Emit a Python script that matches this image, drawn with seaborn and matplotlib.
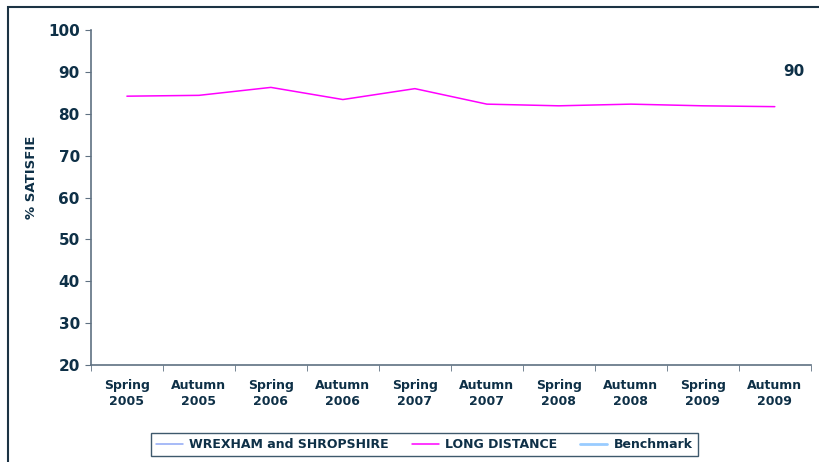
import matplotlib
matplotlib.use("Agg")
import matplotlib.pyplot as plt
from matplotlib.lines import Line2D
from matplotlib.patches import Rectangle
import pandas as pd
import seaborn as sns

periods = ["Spring\n2005", "Autumn\n2005", "Spring\n2006", "Autumn\n2006", "Spring\n2007",
           "Autumn\n2007", "Spring\n2008", "Autumn\n2008", "Spring\n2009", "Autumn\n2009"]
long_distance = [84.2, 84.4, 86.3, 83.4, 86.0, 82.3, 81.9, 82.3, 81.9, 81.7]
series_names = ["WREXHAM and SHROPSHIRE", "LONG DISTANCE", "Benchmark"]
series_colors = ["#8fa8f5", "#ff00ff", "#99ccff"]
benchmark_label = "90"

text_col = "#0e3047"
axis_col = "#5f7182"

sns.set_style("white")
plt.rcParams["font.family"] = ["DejaVu Sans"]

df = pd.DataFrame({"period": periods, "value": long_distance})

fig = plt.figure(figsize=(8.19, 4.62), dpi=100)
ax = fig.add_axes([0.111, 0.21, 0.879, 0.725])

sns.lineplot(data=df, x="period", y="value", ax=ax, color="#ff00ff", linewidth=1.1, sort=False)

ax.set_ylim(20, 100)
ax.set_xlim(-0.5, len(periods) - 0.5)
ax.set_yticks(range(20, 101, 10))
ax.set_yticklabels([str(v) for v in range(20, 101, 10)], fontsize=11, fontweight="bold", color=text_col)
ax.set_xticks(range(len(periods)))
ax.set_xticklabels(periods, fontsize=9, fontweight="bold", color=text_col, linespacing=1.35)
ax.set_xticks([i - 0.5 for i in range(len(periods) + 1)], minor=True)
ax.tick_params(axis="x", which="major", length=0, pad=10)
ax.tick_params(axis="x", which="minor", length=4, color=axis_col, direction="out", bottom=True)
ax.tick_params(axis="y", length=4, color=axis_col, direction="out", left=True, pad=4)
ax.set_xlabel("")
ax.set_ylabel("% SATISFIE", fontsize=9.5, fontweight="bold", color=text_col)
ax.yaxis.set_label_coords(-0.074, 0.56)

for s in ["top", "right"]:
    ax.spines[s].set_visible(False)
for s in ["left", "bottom"]:
    ax.spines[s].set_color(axis_col)
    ax.spines[s].set_linewidth(1.2)

ax.text(0.977, 0.875, benchmark_label, transform=ax.transAxes, ha="center", va="center",
        fontsize=11, fontweight="bold", color=text_col)

handles = [Line2D([], [], color=c, linewidth=2.0 if i == 2 else 1.1) for i, c in enumerate(series_colors)]
leg = fig.legend(handles, series_names, ncol=3, loc="center", bbox_to_anchor=(0.518, 0.037),
                 frameon=True, fancybox=False, fontsize=9, handlelength=2.2, columnspacing=1.8,
                 borderpad=0.4, handletextpad=0.5)
leg.get_frame().set_edgecolor(text_col)
leg.get_frame().set_linewidth(1.0)
for t in leg.get_texts():
    t.set_color(text_col)
    t.set_fontweight("bold")

fig.patches.append(Rectangle((8 / 819, -0.1), 1.1, 1 - 7 / 462 + 0.1, transform=fig.transFigure,
                             fill=False, edgecolor="#1c3344", linewidth=1.5))

fig.savefig("out.png", dpi=100)
